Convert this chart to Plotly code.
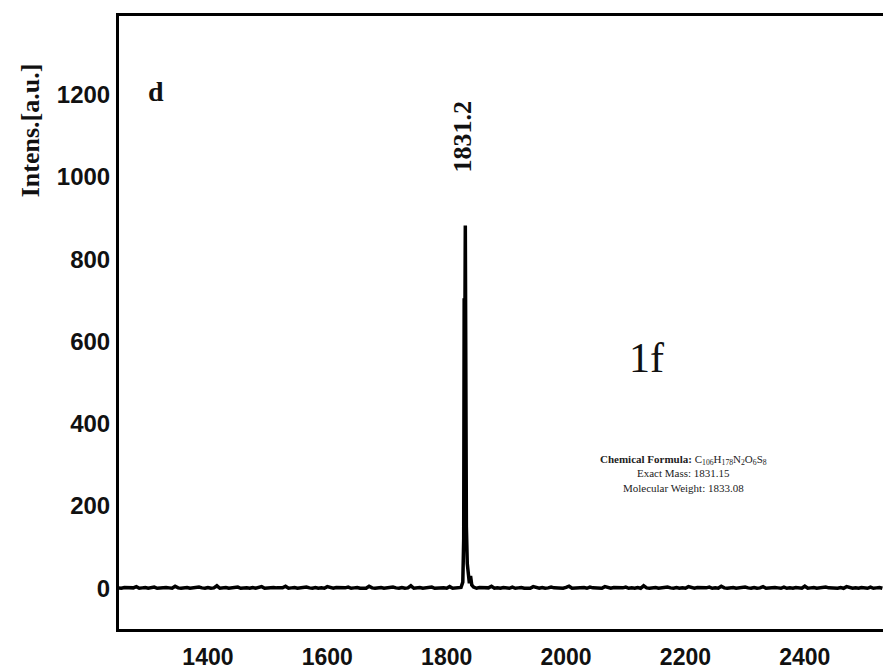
import numpy as np
import plotly.graph_objects as go

# Baseline sampling grid (m/z) and hand-read noise intensities
baseline_mz = np.arange(1250, 2531, 5)
baseline_int = [
    1, 0, 2, 1, 0, 1, 4, 0, 1, 2, 0, 1, 3, 0, 1, 0, 2, 1, 0, 5,
    1, 0, 1, 2, 0, 1, 0, 3, 1, 0, 2, 0, 1, 6, 0, 1, 2, 0, 1, 0,
    3, 0, 1, 1, 0, 2, 0, 1, 4, 0, 1, 0, 2, 1, 0, 1, 5, 0, 1, 2,
    0, 1, 0, 3, 1, 0, 2, 0, 1, 0, 4, 1, 0, 2, 1, 0, 1, 3, 0, 1,
    2, 0, 1, 0, 5, 1, 0, 1, 2, 0, 1, 0, 3, 1, 0, 2, 0, 1, 6, 0,
    1, 2, 0, 1, 0, 3, 0, 1, 2, 1, 0, 4, 0, 1, 0, 2, 1, 0, 3, 1,
    0, 2, 1, 0, 1, 5, 0, 1, 0, 2, 1, 0, 3, 0, 1, 2, 0, 1, 0, 4,
    1, 0, 2, 0, 1, 3, 1, 0, 1, 0, 2, 5, 0, 1, 0, 1, 2, 0, 3, 1,
    0, 1, 0, 4, 1, 0, 2, 1, 0, 1, 3, 0, 1, 0, 2, 0, 6, 1, 0, 1,
    2, 0, 1, 0, 3, 1, 0, 2, 0, 1, 0, 4, 1, 0, 2, 1, 0, 1, 3, 0,
    1, 0, 5, 1, 0, 1, 2, 0, 1, 0, 3, 1, 0, 2, 0, 1, 4, 0, 1, 0,
    2, 1, 0, 3, 0, 1, 0, 2, 1, 0, 5, 0, 1, 2, 0, 1, 0, 3, 1, 0,
    1, 0, 2, 0, 4, 1, 0, 1, 0, 2, 1, 0, 3, 0, 1, 2, 0,
]

# Molecular ion cluster around m/z 1831.2
peak_mz = [1824, 1827, 1828.5, 1829.3, 1829.8, 1830.4, 1831.2, 1832.0,
           1833.0, 1834.5, 1836, 1838, 1840, 1842, 1845]
peak_int = [2, 15, 120, 705, 420, 610, 882, 380, 150, 60, 25, 12, 30, 8, 3]

peak_label = "1831.2"
peak_pos = 1831.2

x_ticks = [1400, 1600, 1800, 2000, 2200, 2400]
y_ticks = [0, 200, 400, 600, 800, 1000, 1200]

# merge baseline and peak cluster into one spectrum trace
pts = [(m, v) for m, v in zip(baseline_mz, baseline_int) if not (1822 <= m <= 1848)]
pts += list(zip(peak_mz, peak_int))
pts.sort(key=lambda p: p[0])
mz = [p[0] for p in pts]
inten = [p[1] for p in pts]

fig = go.Figure()
fig.add_trace(go.Scatter(x=mz, y=inten, mode="lines",
                         line=dict(color="#000000", width=3.5),
                         hoverinfo="skip", showlegend=False))

serif = "Liberation Serif, Times New Roman, serif"
sans = "Liberation Sans, Arial, sans-serif"

fig.update_layout(
    width=883, height=670,
    margin=dict(l=119, r=0, t=16, b=37),
    paper_bgcolor="white", plot_bgcolor="white",
    showlegend=False,
    xaxis=dict(range=[1251, 2531], tickvals=x_ticks, ticks="",
               showgrid=False, zeroline=False,
               showline=True, mirror=True, linecolor="black", linewidth=3,
               tickfont=dict(family=sans, size=23, color="#111", weight="bold"),
               ticklabelstandoff=5),
    yaxis=dict(range=[-99, 1391], tickvals=y_ticks, ticks="",
               showgrid=False, zeroline=False,
               showline=True, mirror=False, linecolor="black", linewidth=3,
               tickfont=dict(family=sans, size=24, color="#111", weight="bold"),
               ticklabelstandoff=1),
)

# axis title placed near the top of the y axis
fig.add_annotation(text="<b>Intens.[a.u.]</b>", xref="paper", yref="paper",
                   x=-0.1165, y=0.8136, xanchor="center", yanchor="middle",
                   textangle=-90, showarrow=False,
                   font=dict(family=serif, size=26, color="#111"))

# panel letter
fig.add_annotation(text="<b>d</b>", xref="paper", yref="paper",
                   x=0.048, y=0.877, xanchor="center", yanchor="middle",
                   showarrow=False,
                   font=dict(family=serif, size=28, color="#111"))

# peak label
fig.add_annotation(text="<b>" + peak_label + "</b>", x=peak_pos, y=1099,
                   xanchor="center", yanchor="middle",
                   textangle=-90, showarrow=False, xshift=-3,
                   font=dict(family=serif, size=26, color="#111"))

# compound name
fig.add_annotation(text="1f", x=2134, y=560, xanchor="center", yanchor="middle",
                   showarrow=False,
                   font=dict(family=serif, size=42, color="#111"))

# compound info block
fig.add_annotation(
    text=("<b>Chemical Formula:</b> C<sub>106</sub>H<sub>178</sub>N<sub>2</sub>"
          "O<sub>6</sub>S<sub>8</sub><br>Exact Mass: 1831.15<br>"
          "Molecular Weight: 1833.08"),
    x=2196, y=278, xanchor="center", yanchor="middle",
    showarrow=False, align="center",
    font=dict(family=serif, size=11, color="#222"))

fig.write_html("out.html")
